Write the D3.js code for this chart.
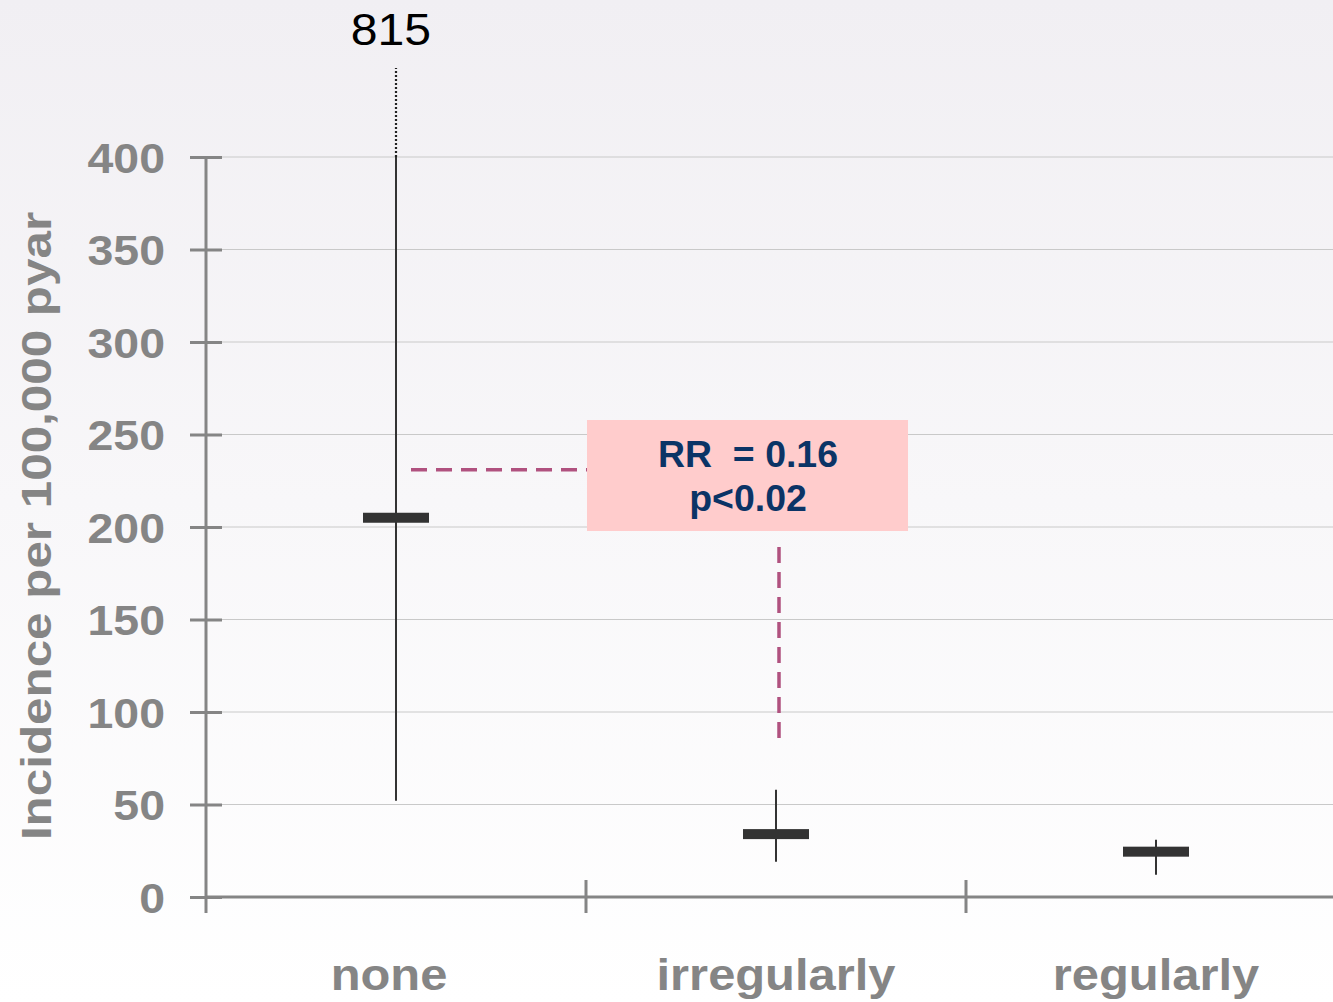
<!DOCTYPE html>
<html><head><meta charset="utf-8">
<script src="https://cdn.jsdelivr.net/npm/d3@7"></script>
<style>html,body{margin:0;padding:0;background:#fff;}svg{display:block;}</style>
</head><body>
<svg id="c" width="1333" height="1002"></svg>
<script>
const categories = ["none", "irregularly", "regularly"];
const medians = [205, 34, 24.5];
const lows = [52, 19, 12];
const highs = [815, 58, 31];
const yTicks = [0, 50, 100, 150, 200, 250, 300, 350, 400];
const yTitle = "Incidence per 100,000 pyar";
const annotationLines = ["RR  = 0.16", "p<0.02"];

(function () {
const svg = d3.select("#c");
const W = 1333, H = 1002;
const FONT = "Liberation Sans, Arial, sans-serif";
const defs = svg.append("defs");
const grad = defs.append("linearGradient").attr("id","bg").attr("x1",0).attr("y1",0).attr("x2",0).attr("y2",1);
grad.append("stop").attr("offset","0%").attr("stop-color","#f1eff3");
grad.append("stop").attr("offset","100%").attr("stop-color","#ffffff");
svg.append("rect").attr("width",W).attr("height",H).attr("fill","url(#bg)");

// stretch text horizontally to mimic the wider original typeface
function stretch(sel, factor) {
  sel.each(function () {
    const len = this.getComputedTextLength();
    d3.select(this).attr("textLength", len * factor).attr("lengthAdjust", "spacingAndGlyphs");
  });
}

const pLeft = 206, pRight = 1346, pTop = 157, pBottom = 897;
const yMax = 400;
const y = d3.scaleLinear().domain([0, yMax]).range([pBottom, pTop]);
const x = d3.scaleBand().domain(categories).range([pLeft, pRight]).padding(0);

// gridlines
svg.append("g").selectAll("line").data(yTicks.filter(d => d > 0)).join("line")
  .attr("x1", pLeft).attr("x2", 1333).attr("y1", d => y(d)).attr("y2", d => y(d))
  .attr("stroke", "#c9c9c9").attr("stroke-width", 1.2);

const axisColor = "#858585";
// y axis
const yAxis = svg.append("g").attr("transform", `translate(${pLeft},0)`)
  .call(d3.axisLeft(y).tickValues(yTicks).tickSize(16).tickPadding(25));
yAxis.select(".domain").remove();
yAxis.selectAll(".tick line").attr("x2", 16).attr("x1", -16).attr("stroke", axisColor).attr("stroke-width", 3);
const yt = yAxis.selectAll(".tick text").attr("fill", axisColor).attr("font-family", FONT)
  .attr("font-weight", "bold").attr("font-size", 43).attr("dy", "0.36em");
stretch(yt, 1.08);
svg.append("line").attr("x1", pLeft).attr("x2", pLeft).attr("y1", pTop).attr("y2", pBottom + 16)
  .attr("stroke", axisColor).attr("stroke-width", 3);

// x axis
svg.append("line").attr("x1", pLeft).attr("x2", 1333).attr("y1", pBottom).attr("y2", pBottom)
  .attr("stroke", axisColor).attr("stroke-width", 3);
const bounds = categories.map(c => x(c)).slice(1);
svg.append("g").selectAll("line").data(bounds).join("line")
  .attr("x1", d => d).attr("x2", d => d).attr("y1", pBottom - 17).attr("y2", pBottom + 16)
  .attr("stroke", axisColor).attr("stroke-width", 3);
const xt = svg.append("g").selectAll("text").data(categories).join("text")
  .attr("x", (d, i) => x(d) + x.bandwidth() / 2 - (i === 0 ? 7 : 0)).attr("y", 990)
  .attr("text-anchor", "middle").attr("fill", axisColor)
  .attr("font-family", FONT).attr("font-weight", "bold").attr("font-size", 44)
  .text(d => d);
stretch(xt, 1.11);

// y title
const tt = svg.append("text").attr("transform", `translate(51,${(pTop + pBottom) / 2 - 1}) rotate(-90)`)
  .attr("text-anchor", "middle").attr("fill", axisColor)
  .attr("font-family", FONT).attr("font-weight", "bold").attr("font-size", 42)
  .text(yTitle);
stretch(tt, 1.175);

// annotation dashed connectors
const ann = svg.append("g");
const cx = d => x(d) + x.bandwidth() / 2;
ann.append("line").attr("x1", cx("none") + 15).attr("x2", 587).attr("y1", y(231)).attr("y2", y(231))
  .attr("stroke", "#b0517f").attr("stroke-width", 3.5).attr("stroke-dasharray", "16,9");
ann.append("line").attr("x1", cx("irregularly") + 3).attr("x2", cx("irregularly") + 3).attr("y1", 547).attr("y2", y(83))
  .attr("stroke", "#b0517f").attr("stroke-width", 3.5).attr("stroke-dasharray", "16,9");

// whiskers and medians
const g = svg.append("g");
categories.forEach((c, i) => {
  const px = cx(c);
  const hiClamped = Math.min(highs[i], yMax);
  g.append("line").attr("x1", px).attr("x2", px).attr("y1", y(lows[i])).attr("y2", y(hiClamped))
    .attr("stroke", "#333").attr("stroke-width", 2);
  if (highs[i] > yMax) {
    g.append("line").attr("x1", px).attr("x2", px).attr("y1", y(yMax)).attr("y2", 68)
      .attr("stroke", "#222").attr("stroke-width", 2.2).attr("stroke-dasharray", "2,2");
    const lbl = g.append("text").attr("x", px - 5).attr("y", 45).attr("text-anchor", "middle")
      .attr("font-family", FONT).attr("font-size", 45).attr("fill", "#000")
      .text(highs[i]);
    stretch(lbl, 1.07);
  }
  g.append("rect").attr("x", px - 33).attr("width", 66).attr("y", y(medians[i]) - 5).attr("height", 10)
    .attr("fill", "#333");
});

// annotation box
ann.append("rect").attr("x", 587).attr("y", 420).attr("width", 321).attr("height", 111).attr("fill", "#ffcccc");
const at = ann.selectAll("text.a").data(annotationLines).join("text").attr("class", "a")
  .attr("x", 748).attr("y", (d, i) => 467 + i * 44).attr("text-anchor", "middle")
  .attr("fill", "#0b3466").attr("font-family", FONT)
  .attr("font-weight", "bold").attr("font-size", 36).attr("xml:space", "preserve").style("white-space", "pre")
  .text(d => d);
stretch(at, 1.04);
})();
</script>
</body></html>
